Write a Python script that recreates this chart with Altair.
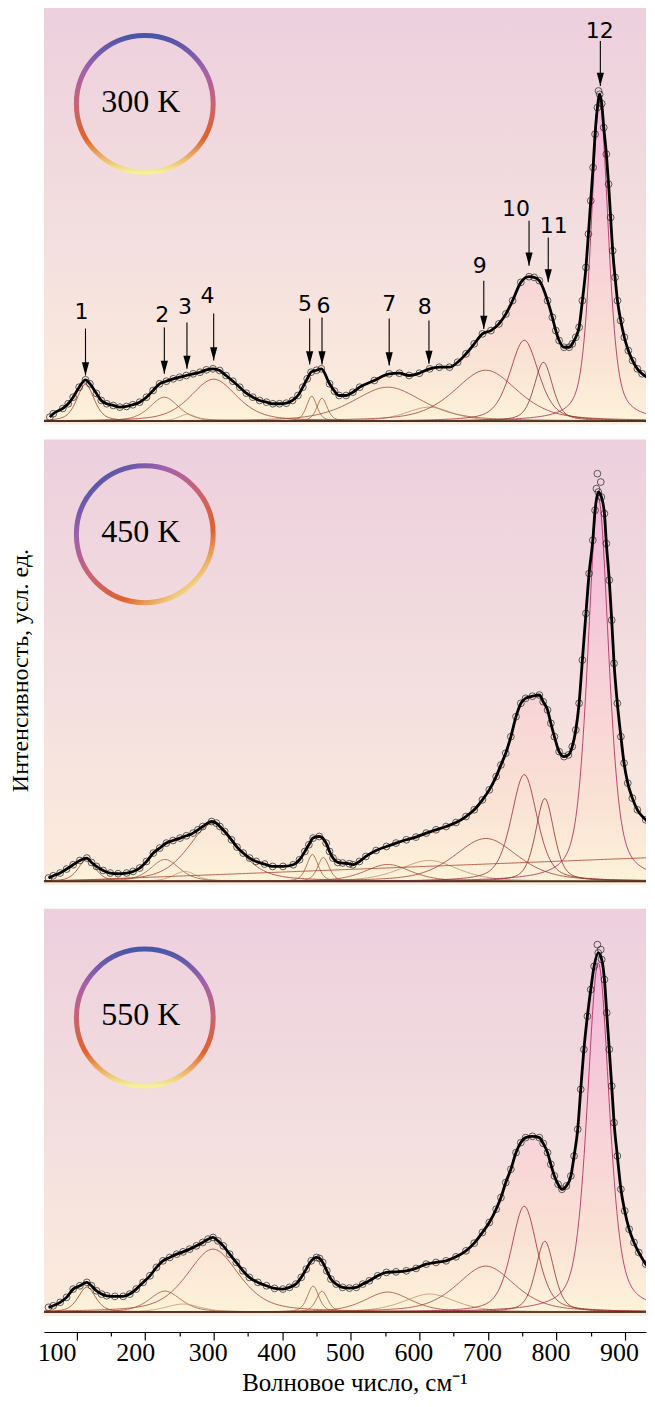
import numpy as np
import pandas as pd
import altair as alt

# ---------------- data ----------------
# wavenumber (cm-1) and intensity (arb. units) of the measured spectra
w_300 = [61, 66, 80, 87.8, 95, 103.8, 113, 119.4, 129, 136, 144, 153.5, 163, 172.8, 182, 192, 202, 211.6,
         221, 231, 241, 250.5, 260, 270, 280, 289.3, 299, 308.7, 318, 328, 338, 347.6, 357, 367, 377, 386.3,
         396, 405.9, 415, 422.8, 430, 436.4, 442, 450, 457, 469, 476.2, 483, 493.2, 503, 513, 534.3, 556,
         570.8, 585, 600, 615, 629, 644, 655.8, 668, 680, 692, 704.4, 716, 726.3, 736, 748, 760, 767.5,
         775, 787, 794, 799, 803.9, 811, 818.5, 823, 828.2, 833, 837.8, 843, 846.6, 850, 853.4, 856.3,
         859.7, 863, 866, 869, 872.8, 876, 879, 882, 885.5, 889, 893.7, 899, 904.8, 911, 918, 925, 942]
i_300 = [4, 7.4, 12.7, 17.4, 24, 34, 41.4, 37.4, 27.7, 20.7, 17.4, 15.7, 14, 14.7, 16.4, 19, 24, 30.7,
         37.4, 40, 42.4, 44, 45.7, 47.4, 49, 51.4, 52.4, 50.7, 45.7, 40, 34, 28, 24, 20.7, 19, 17.4,
         17.4, 18, 20.7, 25.7, 34, 42.4, 49, 51, 52.4, 37.4, 30, 25.7, 25.7, 29, 34, 40.7, 47.4,
         48, 45.7, 48, 52.4, 54, 54, 59, 67.4, 77.4, 87.4, 90.7, 97.4, 107.4, 120.7, 139, 144.7, 144,
         140.7, 120.7, 104, 90.7, 80.7, 74, 74, 77.4, 84, 94, 120.7, 154, 187.4, 220.7, 254, 287.4,
         314, 327.4, 318, 294, 267.4, 237.4, 204, 170.7, 144, 120.7, 100.7, 84, 70.7, 60.7, 52.4, 47.4, 40.7]

w_450 = [59, 66, 76, 85.4, 95, 104.8, 115, 121.8, 129, 138.7, 149, 160.6, 173, 182.4, 192, 202, 212, 221.3,
         231, 240.7, 251, 260.2, 270, 277, 284, 297, 303.9, 309, 316, 326, 334, 343, 352.4, 362, 374.3, 386,
         401, 416, 425.2, 433, 438.8, 445, 454, 464, 469, 474, 481, 488, 498, 503, 512.6, 522, 536.9, 552,
         566, 581, 595, 610, 624.3, 639, 653.4, 668, 680, 692, 702, 712, 719, 726, 733.5, 741, 748, 755,
         765, 775, 780.6, 787, 791.8, 797, 803.9, 811, 817.5, 823, 828.2, 833, 837.8, 843, 847.6, 853,
         856.3, 861, 865.5, 870, 872.8, 877, 880.6, 884, 888.8, 894, 898.6, 904, 910.7, 918, 930.2, 942]
i_450 = [3.4, 5.7, 8.4, 12.4, 16.7, 21, 23.4, 19, 15, 11, 8.4, 7.7, 8.4, 10, 13.4, 20, 28.4, 33.4,
         38.4, 41, 43.4, 45.7, 48.4, 51.7, 55, 60, 58.4, 55, 50, 41.7, 34.4, 28.4, 23.4, 20, 17.4, 15,
         15, 16.7, 21.7, 30, 36.7, 43.4, 45, 38.4, 30, 23.4, 19, 18.4, 17.7, 16.7, 20, 25, 31, 35,
         38.4, 41.7, 44.4, 48.4, 51.7, 55, 59, 65, 71.7, 81.7, 91.7, 105, 116.7, 128.4, 145, 165, 178.4, 183.4,
         185.5, 186.7, 180, 171.7, 158.4, 145, 130, 125, 126.7, 135, 151.7, 178.4, 221.7, 268.4, 308.4, 341.7,
         371.7, 390, 385, 368.4, 338.4, 301.7, 261.7, 218.4, 178.4, 145, 118.4, 98.4, 83.4, 71.7, 61.7, 53.4]

w_550 = [59, 66, 76, 85.4, 95, 104.8, 115, 121.8, 129, 136.4, 144, 155.8, 168, 177.6, 187, 197, 207, 216.5,
         226, 235.9, 246, 255.3, 265, 274.8, 284, 291.7, 299, 306.2, 314, 323.3, 333, 342.7, 352, 364.5, 377,
         388.8, 401, 410.6, 420, 427.7, 435, 442.3, 450, 454.4, 459, 465, 471, 478.7, 488, 498, 508, 517.4,
         527, 539.3, 552, 566, 581, 595.2, 610, 624.3, 639, 653.4, 668, 680, 692, 702, 712, 719, 726, 733.5,
         741, 748, 755, 765, 775, 780.6, 787, 791.8, 797, 802.4, 808, 814.5, 821, 825.7, 831, 835.4, 840,
         845.1, 850, 854.9, 861, 866, 870, 873.3, 877, 880.6, 884, 888.8, 894, 899.6, 906, 913.1, 920, 930.2, 942]
i_550 = [4.7, 6.3, 9.7, 14.7, 23, 26.3, 29.7, 26.3, 21.3, 18, 16.3, 15.7, 15.7, 18, 23, 29.7, 36.3, 44.7,
         51.3, 54.7, 58, 60.3, 63, 66.3, 69.7, 73, 74.7, 71.3, 66.3, 58, 49.7, 41.3, 34.7, 29.7, 26.3,
         23.7, 23, 24.7, 28, 34.7, 43, 51.3, 54.7, 53.7, 49.7, 41.3, 33, 28, 24.7, 24, 24.7, 28,
         31.3, 36.3, 39.7, 40.3, 41.3, 43.7, 48, 49.7, 51.3, 55.3, 61.3, 69, 79.7, 89.7, 103, 114.7, 129.7, 143,
         159.7, 169.7, 174.7, 176, 174.7, 169, 159.7, 148, 136.3, 128, 123, 126.3, 136.3, 156.3, 183, 223, 263,
         296.3, 323, 346.3, 359.7, 353, 333, 299.7, 263, 226.3, 189.7, 156.3, 123, 101.3, 83, 69.7, 59.7, 48, 36.3]

# scattered measured points lying off the fitted curve (near the main band top)
extra_w = [[861.3], [859.7, 864.6, 858.3], [859.7, 864.6]]
extra_i = [[330.7], [408.4, 400, 393.4], [368, 363]]

# fitted band parameters: centre (cm-1), height, FWHM (cm-1)
band_names = ["1", "2", "3", "4", "5", "6", "7", "8", "9", "10", "11", "12"]
c_300 = [113, 228, 262, 300, 443, 458, 554, 614, 697, 753, 781, 863]
a_300 = [37, 24, 7, 42, 25, 23, 34, 14, 51, 81, 59, 320]
f_300 = [30, 50, 30, 80, 18, 18, 120, 80, 110, 50, 32, 30]

c_450 = [115, 229, 258, 299, 444, 460, 554, 614, 697, 753, 783, 861]
a_450 = [22, 22, 10, 58, 27, 24, 17, 21, 43, 107, 83, 385]
f_450 = [30, 50, 40, 85, 20, 20, 80, 100, 110, 45, 32, 36]

c_550 = [115, 229, 255, 299, 445, 458, 554, 615, 697, 753, 783, 861]
a_550 = [25, 21, 8, 63, 26, 21, 20, 18, 46, 106, 71, 350]
f_550 = [30, 55, 60, 90, 20, 20, 80, 90, 100, 45, 32, 38]

# linear background of the 450 K fit (end points)
bg450_w = [52, 942]
bg450_i = [0, 24]

# arrows of the 300 K panel: position, tip, tail, label position
arrow_w = [113, 228, 261, 300, 440, 458, 556, 614, 694, 760, 788, 864]
arrow_tip = [45.7, 47.4, 52.4, 60.7, 56.7, 56.7, 55.7, 57.4, 92.4, 155.7, 139, 335.7]
arrow_top = [92.7, 93.7, 98.7, 107.7, 102.7, 103.7, 102.7, 100.7, 140.7, 200.7, 184, 380.7]
label_w = [107, 225, 258, 291, 433, 460, 556, 608, 688, 741, 796, 863]
label_i = [109, 106, 114, 125, 117, 115, 117, 114, 155, 212, 195, 391]

temperatures = ["300 K", "450 K", "550 K"]
ring_w = [199.5, 199.5, 199.5]
ring_i = [317.7, 347.7, 295]

# ---------------- styling ----------------
W = 603
heights = [419, 446, 408]
y_domains = [[-3.3, 415.7], [-3.3, 442.7], [-4.0, 404.0]]
XDOM = [52.4, 930.6]
SERIF = "Liberation Serif"

colors_300 = ["#a8402e", "#a05a40", "#c09a6c", "#a83c30", "#a8603a", "#a8603a", "#a04a36", "#b89070",
              "#a03a30", "#a02c38", "#8e3424", "#a8245a"]
colors_450 = ["#8e8c50", "#8e8c50", "#9a9460", "#98804a", "#8e8c50", "#8e8c50", "#8e8c50", "#8e8c50",
              "#a05a3a", "#a83040", "#a83040", "#b02a52"]
colors_550 = ["#b89060", "#a86a40", "#b89a6a", "#b03a3a", "#a8683a", "#a8683a", "#b08050", "#b08050",
              "#a84a3a", "#a83040", "#a03a30", "#b0285a"]

bg_grad = alt.Gradient(gradient="linear", x1=0, x2=0, y1=0, y2=1,
                       stops=[alt.GradientStop(color="#edcfdd", offset=0),
                              alt.GradientStop(color="#f3dfdf", offset=0.55),
                              alt.GradientStop(color="#fcecdc", offset=1)])
area_grad = alt.Gradient(gradient="linear", x1=0, x2=0, y1=0, y2=1,
                         stops=[alt.GradientStop(color="#f2b4da", offset=0),
                                alt.GradientStop(color="#f7cfd8", offset=0.45),
                                alt.GradientStop(color="#fae2d4", offset=0.8),
                                alt.GradientStop(color="#fdf3da", offset=1)])
ring_stops = [alt.GradientStop(color="#4656a8", offset=0),
              alt.GradientStop(color="#a460ac", offset=0.25),
              alt.GradientStop(color="#cc6272", offset=0.5),
              alt.GradientStop(color="#e0622c", offset=0.75),
              alt.GradientStop(color="#f6f09a", offset=1)]
ring_grads = [
    alt.Gradient(gradient="linear", x1=0.5, x2=0.5, y1=0, y2=1, stops=ring_stops),
    alt.Gradient(gradient="linear", x1=0.15, x2=0.85, y1=0.05, y2=0.95, stops=ring_stops),
    alt.Gradient(gradient="linear", x1=0.5, x2=0.5, y1=0, y2=1, stops=ring_stops),
]

YTITLE = "Интенсивность, усл. ед."


def pseudo_voigt(w, c, a, f, eta=0.5):
    hw = f / 2.0
    lor = 1.0 / (1.0 + ((w - c) / hw) ** 2)
    gau = np.exp(-np.log(2) * ((w - c) / hw) ** 2)
    return a * (eta * lor + (1 - eta) * gau)


def make_panel(k, w_meas, i_meas, cs, amps, fwhms, colors, bg=None, arrows=False, x_axis=None):
    H = heights[k]
    y_axis = alt.Axis(title=YTITLE if k == 1 else " ", labels=False, ticks=False, domain=False, grid=False,
                      titleFont=SERIF, titleFontSize=24, titleFontWeight="normal", titleColor="black",
                      titlePadding=11, titleY=231 if k == 1 else H / 2)
    xs = alt.Scale(domain=XDOM, nice=False, zero=False)
    ys = alt.Scale(domain=y_domains[k], nice=False, zero=False)

    def X():
        return alt.X("w:Q", scale=xs, axis=x_axis)

    def Y(field="h"):
        return alt.Y(f"{field}:Q", scale=ys, axis=y_axis)

    meas = pd.DataFrame({"w": w_meas, "h": i_meas})
    extra = pd.DataFrame({"w": extra_w[k], "h": extra_i[k]})

    grid = np.arange(XDOM[0], 944, 2.0)
    rows = []
    names = list(band_names)
    cols = list(colors)
    for name, c, a, f in zip(band_names, cs, amps, fwhms):
        rows.append(pd.DataFrame({"w": grid, "h": pseudo_voigt(grid, c, a, f), "comp": name}))
    if bg is not None:
        rows.append(pd.DataFrame({"w": grid, "h": np.interp(grid, bg[0], bg[1]), "comp": "bg"}))
        names.append("bg")
        cols.append("#a0a060")
    comps = pd.concat(rows, ignore_index=True)

    one = pd.DataFrame({"a": [0]})
    back = alt.Chart(one).mark_rect(fill=bg_grad).encode(
        x=alt.value(0), x2=alt.value(W), y=alt.value(0), y2=alt.value(H))

    area = alt.Chart(meas).mark_area(interpolate="monotone", fill=area_grad, opacity=0.95, clip=True).encode(
        x=X(), y=Y(), y2=alt.datum(0))

    comp_lines = alt.Chart(comps).mark_line(strokeWidth=0.85, opacity=0.95, clip=True).encode(
        x=X(), y=Y(),
        color=alt.Color("comp:N", scale=alt.Scale(domain=names, range=cols), legend=None))

    base = alt.Chart(one).mark_rule(color="#3a3826", strokeWidth=1.6).encode(y=alt.datum(0))

    pts = alt.Chart(meas).mark_point(shape="circle", filled=False, size=46, stroke="#262626",
                                     strokeWidth=0.85, opacity=0.85, clip=True).encode(x=X(), y=Y())
    pts_extra = alt.Chart(extra).mark_point(shape="circle", filled=False, size=46, stroke="#262626",
                                            strokeWidth=0.85, opacity=0.85, clip=True).encode(x=X(), y=Y())

    fit_line = alt.Chart(meas).mark_line(interpolate="monotone", color="black", strokeWidth=2.8,
                                         clip=True).encode(x=X(), y=Y())

    ring_df = pd.DataFrame({"w": [ring_w[k]], "h": [ring_i[k]], "t": [temperatures[k]]})
    ring = alt.Chart(ring_df).mark_point(shape="circle", filled=False, size=137 * 137,
                                         stroke=ring_grads[k], strokeWidth=5, opacity=1).encode(
        x=X(), y=Y())
    ring_text = alt.Chart(ring_df).mark_text(font=SERIF, fontSize=32, color="black", dx=-4, dy=-2).encode(
        x=X(), y=Y(), text="t:N")

    layers = [back, area, comp_lines, base, pts, pts_extra, fit_line, ring, ring_text]

    if arrows:
        adf = pd.DataFrame({"w": arrow_w, "h": arrow_top, "tip": arrow_tip,
                            "lw": label_w, "lh": label_i, "lab": band_names})
        shafts = alt.Chart(adf).mark_rule(color="black", strokeWidth=1.1).encode(
            x=X(), y=Y(), y2="tip:Q")
        heads = alt.Chart(adf).mark_point(shape="M-0.6,-2.2L0.6,-2.2L0,0Z", filled=True, size=144,
                                          color="black", opacity=1).encode(x=X(), y=Y("tip"))
        labs = alt.Chart(adf).mark_text(font="DejaVu Sans", fontSize=22, color="black",
                                        baseline="middle").encode(
            x=alt.X("lw:Q", scale=xs, axis=x_axis), y=alt.Y("lh:Q", scale=ys, axis=y_axis), text="lab:N")
        layers += [shafts, heads, labs]

    return alt.layer(*layers).properties(width=W, height=H)


x_axis_bottom = alt.Axis(
    title="Волновое число, см⁻¹",
    values=list(range(100, 901, 50)),
    labelExpr="datum.value % 100 == 0 ? datum.label : ''",
    tickSize={"condition": {"test": "datum.value % 100 != 0", "value": 4}, "value": 8},
    labelOffset={"condition": [{"test": "datum.value == 100", "value": -20},
                               {"test": "datum.value == 200", "value": -10}], "value": -6},
    grid=False, offset=16, domainColor="black", domainWidth=1.2, tickColor="black", tickWidth=1.2,
    labelFont=SERIF, labelFontSize=26, labelColor="black", labelPadding=0, labelFlush=False,
    labelOverlap=False,
    titleFont=SERIF, titleFontSize=25, titleFontWeight="normal", titleColor="black", titlePadding=5,
    titleX=311,
)

p1 = make_panel(0, w_300, i_300, c_300, a_300, f_300, colors_300, arrows=True)
p2 = make_panel(1, w_450, i_450, c_450, a_450, f_450, colors_450, bg=(bg450_w, bg450_i))
p3 = make_panel(2, w_550, i_550, c_550, a_550, f_550, colors_550, x_axis=x_axis_bottom)

top = alt.vconcat(p1, p2, spacing=15)
chart = alt.vconcat(top, p3, spacing=24).properties(
    padding={"left": 1, "top": -3, "right": 0, "bottom": 0}).configure_view(stroke=None)

chart.save("out.html", embed_options={"renderer": "svg", "actions": False})
